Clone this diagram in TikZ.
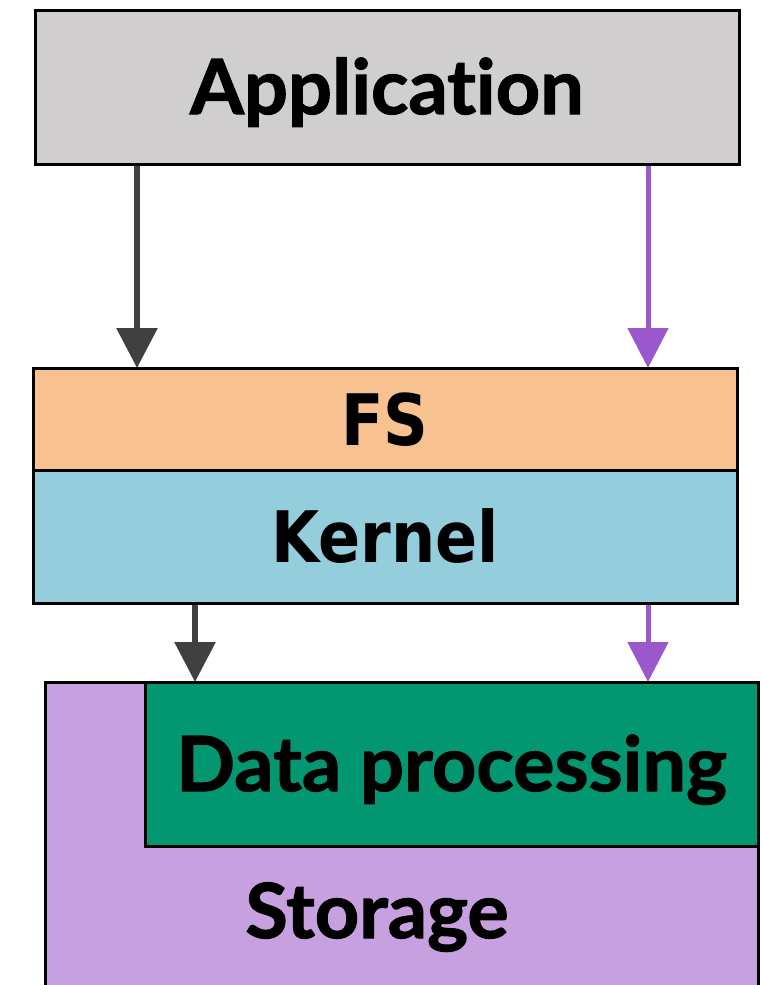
\documentclass[tikz,border=0pt]{standalone}
\usepackage{fontspec}
\usetikzlibrary{arrows.meta}
\newfontfamily\labelfont{Lato}[Ligatures=NoCommon, RawFeature=-liga, FakeStretch=1.02, FakeBold=1.5]
\newfontfamily\layerfont{DejaVu Sans}[FakeStretch=0.875]
\definecolor{appgray}{HTML}{D0CECF}
\definecolor{fsorange}{HTML}{F8C190}
\definecolor{kernelblue}{HTML}{94CEDC}
\definecolor{storagepurple}{HTML}{C7A0E0}
\definecolor{procgreen}{HTML}{039771}
\definecolor{pathdark}{HTML}{404040}
\definecolor{pathpurple}{HTML}{9B58CC}
\tikzset{
  box/.style={draw=black, line width=3pt, rectangle, inner sep=0pt, outer sep=0pt},
  humanist/.style={font=\labelfont\bfseries\fontsize{76}{80}\selectfont, text height=54pt, text depth=0pt},
  layer/.style={font=\layerfont\bfseries\fontsize{71}{76}\selectfont, text height=52pt, text depth=0pt},
  darkflow/.style={draw=pathdark, line width=6pt, shorten <=1.5pt, -{Triangle[width=40pt,length=40pt]}},
  purpleflow/.style={draw=pathpurple, line width=5pt, shorten <=1.5pt, -{Triangle[width=40pt,length=40pt]}},
}
\begin{document}
\begin{tikzpicture}[x=1pt,y=-1pt]
  \clip (0,0) rectangle (761,985);
  \fill[white] (0,0) rectangle (761,985);

  % top: application (kern keeps "t" and "i" as separate glyphs)
  \node[box, fill=appgray, minimum width=704, minimum height=154, humanist] (app) at (387,87) {Applicat\kern0pt ion};

  % file system and kernel stack
  \node[box, fill=fsorange, minimum width=704, minimum height=102, layer] (fs) at (385,419) {FS};
  \node[box, fill=kernelblue, minimum width=704, minimum height=133, layer] (kernel) at (385,536.5) {Kernel};

  % storage device with embedded data processing
  \node[box, fill=storagepurple, minimum width=713, minimum height=318] (storage) at (401.5,841) {};
  \node[humanist] (storagelabel) at (377,911) {Storage};
  \node[box, fill=procgreen, minimum width=613, minimum height=164, humanist] (proc) at (451.5,764) {Data processing};

  % column positions of the two data paths
  \coordinate (colA) at (137,0);
  \coordinate (colB) at (195,0);
  \coordinate (colP) at (648,0);

  \draw[darkflow] (app.south -| colA) -- (fs.north -| colA);
  \draw[purpleflow] (app.south -| colP) -- (fs.north -| colP);
  \draw[darkflow] (kernel.south -| colB) -- (storage.north -| colB);
  \draw[purpleflow] (kernel.south -| colP) -- (storage.north -| colP);
\end{tikzpicture}
\end{document}
